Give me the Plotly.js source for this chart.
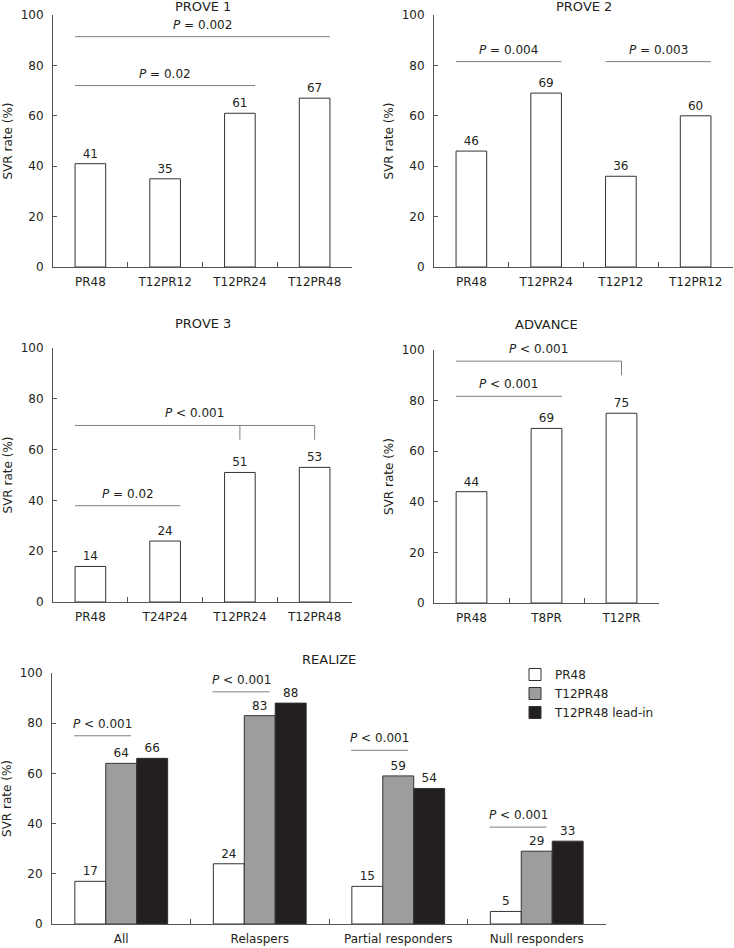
<!DOCTYPE html>
<html>
<head>
<meta charset="utf-8">
<script src="https://cdn.plot.ly/plotly-3.0.1.min.js"></script>
<style>html,body{margin:0;padding:0;background:#fff;}#chart{width:734px;height:948px;}</style>
</head>
<body>
<div id="chart"></div>
<script>
// ---------- DATA ----------
const prove1Cats = ['PR48', 'T12PR12', 'T12PR24', 'T12PR48'];
const prove1Vals = [41, 35, 61, 67];

const prove2Cats = ['PR48', 'T12PR24', 'T12P12', 'T12PR12'];
const prove2Vals = [46, 69, 36, 60];

const prove3Cats = ['PR48', 'T24P24', 'T12PR24', 'T12PR48'];
const prove3Vals = [14, 24, 51, 53];

const advanceCats = ['PR48', 'T8PR', 'T12PR'];
const advanceVals = [44, 69, 75];

const realizeCats = ['All', 'Relaspers', 'Partial responders', 'Null responders'];
const realizeSeries = ['PR48', 'T12PR48', 'T12PR48 lead-in'];
const realizePR48 = [17, 24, 15, 5];
const realizeT12PR48 = [64, 83, 59, 29];
const realizeLeadIn = [66, 88, 54, 33];

const panelTitles = ['PROVE 1', 'PROVE 2', 'PROVE 3', 'ADVANCE', 'REALIZE'];

// p-value comparisons: [fromCategory, toCategory, level (%), label, drops]
const prove1P = [
  [0, 3, 91.4, 'P = 0.002'],
  [0, 2, 72, 'P = 0.02']
];
const prove2P = [
  [0, 1, 81.5, 'P = 0.004'],
  [2, 3, 81.5, 'P = 0.003']
];
const prove3P = [
  [0, 3, 69.5, 'P < 0.001', [2, 3]],
  [0, 1, 37.9, 'P = 0.02']
];
const advanceP = [
  [0, 2, 95.6, 'P < 0.001', [2]],
  [0, 1, 81.7, 'P < 0.001']
];
const realizeP = [
  [0, 75, 'P < 0.001'],
  [1, 92.5, 'P < 0.001'],
  [2, 69.2, 'P < 0.001'],
  [3, 38.6, 'P < 0.001']
];

// ---------- LAYOUT HELPERS ----------
const W = 734, H = 948;
const fx = p => p / W;
const fy = p => 1 - p / H;
const FONT = 'DejaVu Sans, Verdana, sans-serif';
const TXT = '#231f20';
const AX = '#555555';
const BR = '#808080';
const BARW = 0.41;

const panels = [
  {x: [53, 352], y: [15, 267], titleY: 7},
  {x: [434, 733], y: [15, 267], titleY: 7},
  {x: [53, 352], y: [348, 602], titleY: 323},
  {x: [434, 659], y: [350, 603], titleY: 324},
  {x: [52, 606], y: [673, 924], titleY: 659}
];

const traces = [];
function single(cats, vals, i) {
  const s = i === 0 ? '' : String(i + 1);
  traces.push({
    type: 'bar', x: cats, y: vals, xaxis: 'x' + s, yaxis: 'y' + s,
    width: BARW, showlegend: false,
    marker: {color: '#ffffff', line: {color: '#333333', width: 1}},
    text: vals.map(String), textposition: 'outside', cliponaxis: false,
    constraintext: 'none',
    textfont: {family: FONT, size: 12, color: TXT}, hoverinfo: 'x+y'
  });
}
single(prove1Cats, prove1Vals, 0);
single(prove2Cats, prove2Vals, 1);
single(prove3Cats, prove3Vals, 2);
single(advanceCats, advanceVals, 3);

const realizeVals = [realizePR48, realizeT12PR48, realizeLeadIn];
const realizeColors = ['#ffffff', '#9d9d9d', '#231f20'];
realizeSeries.forEach((name, k) => {
  traces.push({
    type: 'bar', name: name, x: realizeCats, y: realizeVals[k],
    xaxis: 'x5', yaxis: 'y5',
    marker: {color: realizeColors[k], line: {color: '#333333', width: 1}},
    text: realizeVals[k].map(String), textposition: 'outside', cliponaxis: false,
    constraintext: 'none',
    textfont: {family: FONT, size: 12, color: TXT}
  });
});

const layout = {
  width: W, height: H,
  margin: {l: 0, r: 0, t: 0, b: 0},
  paper_bgcolor: '#ffffff', plot_bgcolor: 'rgba(0,0,0,0)',
  font: {family: FONT, size: 12, color: TXT},
  barmode: 'group', bargap: 0.33, bargroupgap: 0,
  showlegend: true,
  legend: {
    x: fx(515), y: fy(660), xanchor: 'left', yanchor: 'top',
    font: {family: FONT, size: 12, color: TXT},
    bgcolor: 'rgba(0,0,0,0)', tracegroupgap: 0, itemwidth: 30
  },
  shapes: [], annotations: []
};

panels.forEach((p, i) => {
  const s = i === 0 ? '' : String(i + 1);
  const nCats = [prove1Cats, prove2Cats, prove3Cats, advanceCats, realizeCats][i].length;
  layout['xaxis' + s] = {
    domain: [fx(p.x[0]), fx(p.x[1])], anchor: 'y' + s,
    type: 'category', range: [-0.5, nCats - 0.5],
    showline: true, linecolor: AX, linewidth: 1,
    ticks: 'inside', ticklen: 5, tickcolor: AX, tickson: 'boundaries',
    showgrid: false, zeroline: false, fixedrange: true,
    tickfont: {family: FONT, size: 12, color: TXT}, ticklabelstandoff: 4
  };
  layout['yaxis' + s] = {
    domain: [fy(p.y[1]), fy(p.y[0])], anchor: 'x' + s,
    range: [0, 100], dtick: 20, tick0: 0,
    showline: true, linecolor: AX, linewidth: 1,
    ticks: 'inside', ticklen: 4, tickcolor: AX,
    showgrid: false, zeroline: false, fixedrange: true,
    tickfont: {family: FONT, size: 12, color: TXT}, ticklabelstandoff: 6,
    title: {text: 'SVR rate (%)', font: {family: FONT, size: 12, color: TXT}, standoff: 5}
  };
  layout.annotations.push({
    xref: 'x' + s + ' domain', yref: 'paper', x: 0.5, y: fy(p.titleY),
    text: panelTitles[i], showarrow: false, xanchor: 'center', yanchor: 'middle',
    font: {family: FONT, size: 13, color: TXT}
  });
});

function fmtP(t) { return t.replace(/^P/, '<i>P</i>'); }

function bracketSingle(list, i) {
  const s = i === 0 ? '' : String(i + 1);
  list.forEach(c => {
    const x0 = c[0] - BARW / 2;
    const x1 = c[4] ? c[1] : c[1] + BARW / 2;
    layout.shapes.push({type: 'line', xref: 'x' + s, yref: 'y' + s,
      x0: x0, x1: x1, y0: c[2], y1: c[2], line: {color: BR, width: 1}});
    if (c[4]) {
      c[4].forEach(d => layout.shapes.push({type: 'line', xref: 'x' + s, yref: 'y' + s,
        x0: d, x1: d, y0: c[2], y1: c[2] - 5.6, line: {color: BR, width: 1}}));
    }
    layout.annotations.push({xref: 'x' + s, yref: 'y' + s, x: (x0 + x1) / 2, y: c[2],
      text: fmtP(c[3]), showarrow: false, xanchor: 'center', yanchor: 'bottom', yshift: 3,
      font: {family: FONT, size: 12, color: TXT}});
  });
}
bracketSingle(prove1P, 0);
bracketSingle(prove2P, 1);
bracketSingle(prove3P, 2);
bracketSingle(advanceP, 3);

realizeP.forEach(c => {
  const x0 = c[0] - 0.34, x1 = c[0] + 0.07;
  layout.shapes.push({type: 'line', xref: 'x5', yref: 'y5',
    x0: x0, x1: x1, y0: c[1], y1: c[1], line: {color: BR, width: 1}});
  layout.annotations.push({xref: 'x5', yref: 'y5', x: (x0 + x1) / 2, y: c[1],
    text: fmtP(c[2]), showarrow: false, xanchor: 'center', yanchor: 'bottom', yshift: 3,
    font: {family: FONT, size: 12, color: TXT}});
});

Plotly.newPlot('chart', traces, layout, {staticPlot: true, displayModeBar: false});
</script>
</body>
</html>
